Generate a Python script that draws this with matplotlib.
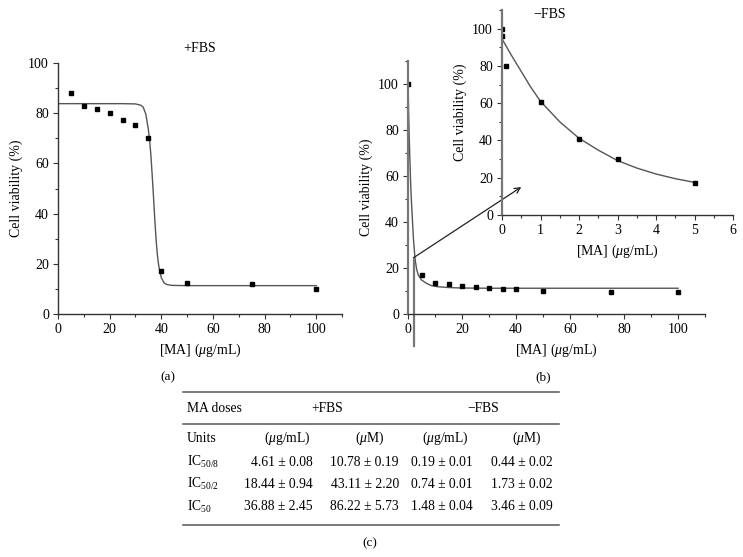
import matplotlib
matplotlib.use("Agg")
import matplotlib.pyplot as plt
from matplotlib.lines import Line2D
from matplotlib.ticker import MultipleLocator

# (a) +FBS
a_conc = [5, 10, 15, 20, 25, 30, 35, 40, 50, 75, 100]
a_viab = [88.2, 82.8, 81.6, 80.1, 77.3, 75.1, 70.2, 17.2, 12.3, 12.1, 9.9]
a_fit_x = [0, 25, 30, 32, 33, 34, 35, 35.5, 36, 36.5, 37, 37.5, 38, 38.5, 39, 40, 41, 42, 44, 50, 100]
a_fit_y = [83.8, 83.8, 83.7, 83.2, 82.4, 79.7, 73.5, 69, 63, 55, 46.5, 37.5, 29.5, 23.5, 19.3, 14.5, 12.5, 11.8, 11.4, 11.3, 11.3]

# (b) -FBS, full range
b_conc = [0, 5, 10, 15, 20, 25, 30, 35, 40, 50, 75, 100]
b_viab = [100, 16.8, 13.4, 13.1, 12.1, 11.7, 11.3, 10.7, 10.7, 10.2, 9.4, 9.4]
b_fit_x = [0, 0.25, 0.5, 1, 1.4, 2, 2.6, 3.2, 3.8, 5, 6.9, 8.5, 10.6, 15, 20, 30, 100]
b_fit_y = [100, 86, 75, 56, 46, 33, 24, 19.5, 17, 14.8, 13.3, 12.4, 11.9, 11.5, 11.3, 11.2, 11.2]

# (b) inset, low doses
in_conc = [0, 0.01, 0.1, 1, 2, 3, 5]
in_viab = [100, 96, 80, 60.5, 40.8, 30, 17]
in_fit_x = [0, 0.25, 0.5, 0.75, 1, 1.5, 2, 2.5, 3, 3.5, 4, 4.5, 5]
in_fit_y = [94.5, 85.5, 77, 68.5, 61, 50, 41.2, 34.8, 29.2, 25.2, 22, 19.5, 17.5]

# (c) table
tab_rows = ["IC$_{50/8}$", "IC$_{50/2}$", "IC$_{50}$"]
tab_units = ["($\\mu$g/mL)", "($\\mu$M)", "($\\mu$g/mL)", "($\\mu$M)"]
plus_ugml = ["4.61 ± 0.08", "18.44 ± 0.94", "36.88 ± 2.45"]
plus_um = ["10.78 ± 0.19", "43.11 ± 2.20", "86.22 ± 5.73"]
minus_ugml = ["0.19 ± 0.01", "0.74 ± 0.01", "1.48 ± 0.04"]
minus_um = ["0.44 ± 0.02", "1.73 ± 0.02", "3.46 ± 0.09"]

plt.rcParams['font.family'] = ['Liberation Serif', 'DejaVu Serif']
plt.rcParams['mathtext.fontset'] = 'custom'
plt.rcParams['mathtext.rm'] = 'Liberation Serif'
plt.rcParams['mathtext.it'] = 'Liberation Serif:italic'
plt.rcParams['font.size'] = 10

W, H = 743, 557
fig = plt.figure(figsize=(W / 100, H / 100), dpi=100)


def fx(px):
    return px / W


def fy(py):
    return 1 - py / H


def style_axes(ax, xmaj, ymaj):
    for s in ['top', 'right']:
        ax.spines[s].set_visible(False)
    for s in ['left', 'bottom']:
        ax.spines[s].set_color('#333333')
        ax.spines[s].set_linewidth(1.0)
    ax.xaxis.set_major_locator(MultipleLocator(xmaj))
    ax.xaxis.set_minor_locator(MultipleLocator(xmaj / 2))
    ax.yaxis.set_major_locator(MultipleLocator(ymaj))
    ax.yaxis.set_minor_locator(MultipleLocator(ymaj / 2))
    ax.tick_params(which='major', direction='out', length=3.5, width=0.8, color='#333333', pad=3)
    ax.tick_params(which='minor', direction='out', length=2, width=0.8, color='#333333')
    ax.set_facecolor('none')


line_kw = dict(color='#555555', lw=1.0)

# panel (a)
ax_a = fig.add_axes([fx(58), fy(314), (342 - 58) / W, (314 - 63) / H])
ax_a.plot(a_fit_x, a_fit_y, **line_kw)
ax_a.plot(a_conc, a_viab, ls='none', marker='s', ms=3.3, color='black')
ax_a.set_xlim(0, 110)
ax_a.set_ylim(0, 100)
style_axes(ax_a, 20, 20)
ax_a.set_xticks([0, 20, 40, 60, 80, 100])
ax_a.set_xlabel("[MA] ($\\mu$g/mL)")
ax_a.set_ylabel("Cell viability (%)")
ax_a.set_title("+FBS", fontsize=10, pad=8)

# panel (b)
ax_b = fig.add_axes([fx(408), fy(314), (705 - 408) / W, (314 - 61) / H])
ax_b.plot(b_fit_x, b_fit_y, **line_kw)
ax_b.plot(b_conc, b_viab, ls='none', marker='s', ms=3.0, color='black')
ax_b.set_xlim(0, 110)
ax_b.set_ylim(0, 110)
style_axes(ax_b, 20, 20)
ax_b.set_xticks([0, 20, 40, 60, 80, 100])
ax_b.set_yticks([0, 20, 40, 60, 80, 100])
ax_b.spines['left'].set_color('#777777')
ax_b.spines['left'].set_linewidth(1.6)
ax_b.set_xlabel("[MA] ($\\mu$g/mL)")
ax_b.set_ylabel("Cell viability (%)", labelpad=4)
ax_b.plot([2.1, 2.1], [24.5, -14], color='#777777', lw=1.6, clip_on=False)

ax_in = fig.add_axes([fx(502), fy(215), (733 - 502) / W, (215 - 10) / H])
ax_in.plot(in_fit_x, in_fit_y, **line_kw)
ax_in.plot(in_conc, in_viab, ls='none', marker='s', ms=2.6, color='black')
ax_in.set_xlim(0, 6)
ax_in.set_ylim(0, 110)
style_axes(ax_in, 1, 20)
ax_in.set_yticks([0, 20, 40, 60, 80, 100])
ax_in.spines['left'].set_color('#777777')
ax_in.spines['left'].set_linewidth(1.6)
ax_in.set_xlabel("[MA] ($\\mu$g/mL)")
ax_in.set_ylabel("Cell viability (%)")
fig.text(fx(550), fy(15), "\u2212FBS", ha='center', va='center', fontsize=10)

ax_b.annotate("", xy=(0.5, 15), xycoords=ax_in.transData,
              xytext=(2.1, 24.5), textcoords='data',
              arrowprops=dict(arrowstyle='->', color='#222222', lw=0.9,
                              shrinkA=0, shrinkB=0), annotation_clip=False)

fig.text(fx(168), fy(377), "(a)", ha='center', va='center', fontsize=9.5)
fig.text(fx(543), fy(377), "(b)", ha='center', va='center', fontsize=9.5)

# table (c)
rule_kw = dict(color='#555555', lw=1.1)
for py in [392, 424, 525]:
    fig.add_artist(Line2D([fx(183), fx(559)], [fy(py), fy(py)], **rule_kw))

tsize = 9.8
fig.text(fx(187), fy(408), "MA doses", ha='left', va='center', fontsize=tsize)
fig.text(fx(327), fy(408), "+FBS", ha='center', va='center', fontsize=tsize)
fig.text(fx(483), fy(408), "\u2212FBS", ha='center', va='center', fontsize=tsize)
fig.text(fx(187), fy(438), "Units", ha='left', va='center', fontsize=tsize)
for cx, u in zip([287, 370, 445, 527], tab_units):
    fig.text(fx(cx), fy(438), u, ha='center', va='center', fontsize=tsize)

row_y = [462, 484, 507]
for i, ry in enumerate(row_y):
    fig.text(fx(187), fy(ry), tab_rows[i], ha='left', va='center', fontsize=tsize)
    for rx, col in zip([313, 399, 473, 553], [plus_ugml, plus_um, minus_ugml, minus_um]):
        fig.text(fx(rx), fy(ry), col[i], ha='right', va='center', fontsize=tsize)

fig.text(fx(370), fy(543), "(c)", ha='center', va='center', fontsize=9.5)

fig.savefig("out.png", dpi=100)
